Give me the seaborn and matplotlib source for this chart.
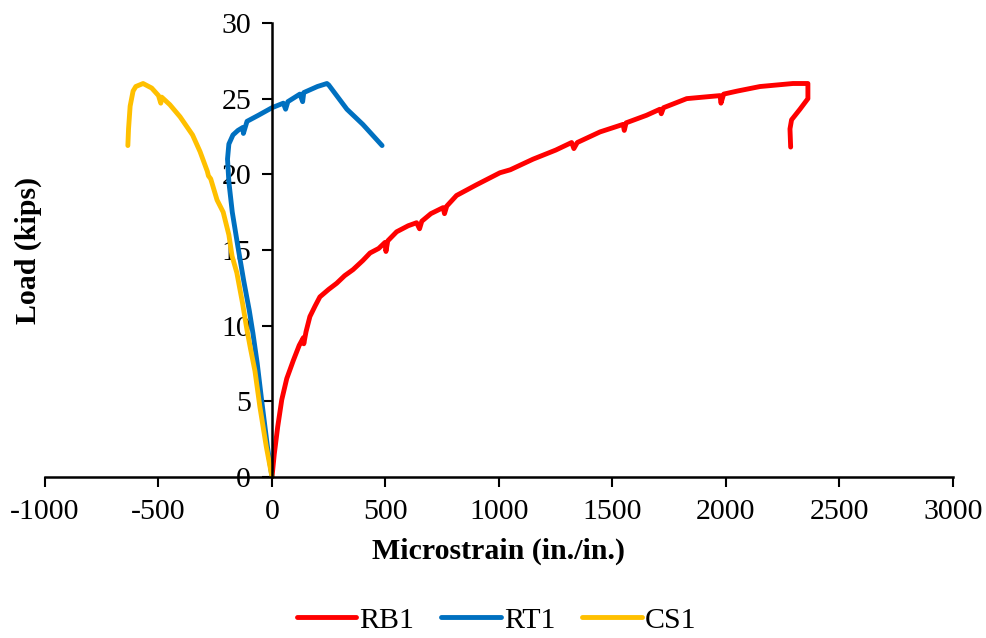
import pandas as pd
import matplotlib
matplotlib.use("Agg")
import matplotlib.pyplot as plt
import seaborn as sns

# Load-strain data
rb1_strain = [0, 10, 25, 43, 65, 94, 120, 138, 140, 150, 167, 190, 211, 250, 285, 320, 357,
              400, 432, 470, 498, 502, 510, 549, 600, 637, 650, 660, 700, 754, 760, 770, 813,
              900, 1004, 1050, 1150, 1250, 1320, 1330, 1345, 1445, 1547, 1552, 1560, 1650,
              1709, 1715, 1725, 1827, 1900, 1974, 1978, 1990, 2050, 2150, 2295, 2361, 2361,
              2326, 2289, 2282, 2285]
rb1_load = [0, 1.5, 3.3, 5.1, 6.5, 7.7, 8.7, 9.2, 8.8, 9.6, 10.6, 11.3, 11.9, 12.4, 12.8, 13.3,
            13.7, 14.3, 14.8, 15.1, 15.5, 14.9, 15.6, 16.2, 16.6, 16.8, 16.4, 16.9, 17.4, 17.8,
            17.4, 17.9, 18.6, 19.3, 20.1, 20.3, 21.0, 21.6, 22.1, 21.7, 22.1, 22.8, 23.3, 22.9,
            23.4, 23.9, 24.3, 24.0, 24.4, 25.0, 25.1, 25.2, 24.7, 25.3, 25.5, 25.8, 26.0, 26.0,
            25.0, 24.3, 23.6, 23.0, 21.8]

rt1_strain = [0, -20, -45, -65, -84, -100, -125, -150, -175, -190, -196, -190, -172, -150,
              -128, -126, -110, -60, 0, 50, 60, 70, 123, 135, 140, 200, 242, 250, 330, 400, 485]
rt1_load = [0, 2, 5, 7.5, 9.5, 11, 13, 15.2, 17.5, 19.5, 21, 22, 22.6, 22.9, 23.1, 22.7,
            23.5, 23.9, 24.4, 24.7, 24.3, 24.8, 25.3, 24.8, 25.4, 25.8, 26.0, 25.9, 24.3,
            23.3, 21.9]

cs1_strain = [0, -25, -53, -75, -95, -110, -130, -155, -176, -190, -215, -242, -270, -280,
              -285, -317, -350, -405, -450, -486, -490, -500, -530, -568, -600, -612, -625,
              -632, -635]
cs1_load = [0, 2, 4.6, 7, 8.5, 9.7, 11.5, 13.5, 14.6, 16, 17.5, 18.3, 19.7, 19.9, 20.2, 21.5,
            22.6, 23.8, 24.6, 25.1, 24.7, 25.2, 25.7, 26.0, 25.8, 25.5, 24.5, 23.0, 21.9]

series = ["RB1", "RT1", "CS1"]
colors = ["#FF0000", "#0070C0", "#FFC000"]

frames = []
for name, xs, ys in zip(series, [rb1_strain, rt1_strain, cs1_strain], [rb1_load, rt1_load, cs1_load]):
    d = pd.DataFrame({"strain": xs, "load": ys})
    d["specimen"] = name
    frames.append(d)
df = pd.concat(frames, ignore_index=True)

sns.set_style("white")
plt.rcParams["font.family"] = ["Liberation Serif", "DejaVu Serif"]
plt.rcParams["axes.unicode_minus"] = False
plt.rcParams["text.color"] = "black"
plt.rcParams["axes.labelcolor"] = "black"

fig = plt.figure(figsize=(9.87, 6.38), dpi=100)
ax = fig.add_axes([0.0456, 0.2524, 0.9199, 0.7116])

sns.lineplot(data=df, x="strain", y="load", hue="specimen", hue_order=series,
             palette=colors, sort=False, estimator=None, units="specimen",
             linewidth=3.5, ax=ax, legend=False)

ax.set_xlim(-1000, 3000)
ax.set_ylim(0, 30)
ax.set_xticks(range(-1000, 3001, 500))
ax.set_yticks(range(0, 31, 5))

ax.spines["left"].set_position(("data", 0))
ax.spines["top"].set_visible(False)
ax.spines["right"].set_visible(False)
for s in ["left", "bottom"]:
    ax.spines[s].set_color("black")
    ax.spines[s].set_linewidth(1.8)

ax.tick_params(axis="both", which="major", direction="out", length=7, width=1.5,
               color="black", labelsize=21.5, labelcolor="black",
               left=True, bottom=True)
ax.tick_params(axis="x", pad=9)
ax.tick_params(axis="y", pad=8)

ax.set_xlabel("Microstrain (in./in.)", fontsize=21.5, fontweight="bold", labelpad=9,
              color="black")
ax.set_ylabel("")
fig.text(0.029, 0.607, "Load (kips)", rotation=90, fontsize=21.5, fontweight="bold",
         ha="center", va="center", color="black")

handles = [plt.Line2D([], [], color=c, lw=3.5) for c in colors]
fig.legend(handles, series, loc="center", bbox_to_anchor=(0.503, 0.028), ncol=3,
           frameon=False, fontsize=21.5, handlelength=2.0, handletextpad=0.1,
           columnspacing=0.9)

fig.savefig("out.png", dpi=100)
